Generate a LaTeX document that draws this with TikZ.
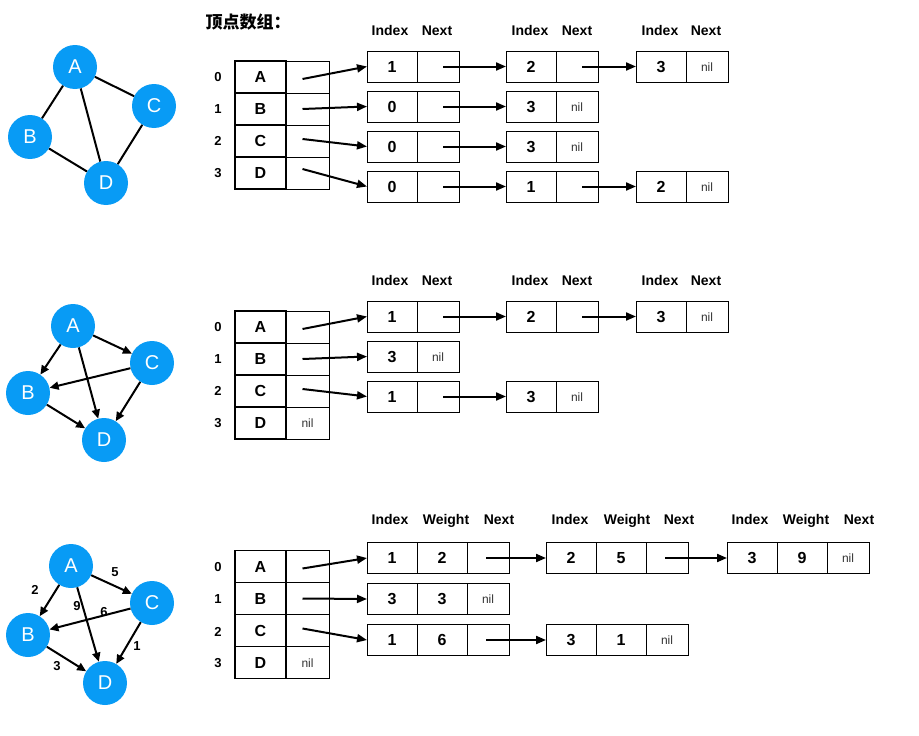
\documentclass[tikz,border=0pt]{standalone}
\usepackage{fontspec}
\setmainfont{Liberation Sans}
\newfontfamily\cjk{Noto Sans CJK SC}
\usetikzlibrary{arrows.meta}
\definecolor{vblue}{RGB}{8,155,245}

\begin{document}
\begin{tikzpicture}[x=1pt, y=-1pt,
    vtx/.style={circle, fill=vblue, text=white, minimum size=44pt, inner sep=0pt, font=\fontsize{20}{20}\selectfont},
    edge/.style={line width=2pt},
    darr/.style={line width=2pt, -{Triangle[length=9pt,width=8pt]}},
    ptr/.style={line width=2pt, -{Triangle[length=10pt,width=8pt]}},
    hdr/.style={text height=10pt, text depth=0pt, inner sep=0pt, font=\bfseries\fontsize{14}{14}\selectfont},
    rowno/.style={font=\bfseries\fontsize{13}{13}\selectfont},
    wlab/.style={font=\bfseries\fontsize{13}{13}\selectfont},
    vcell/.style={draw, line width=1.4pt, minimum width=51pt, minimum height=32pt, inner sep=0pt, outer sep=0pt, text height=11.5pt, text depth=0pt, font=\bfseries\fontsize{16}{16}\selectfont},
    pcell/.style={draw, line width=0.8pt, minimum width=43pt, minimum height=32pt, inner sep=0pt, outer sep=0pt, text height=9pt, text depth=0pt, text=black!80, font=\fontsize{12}{12}\selectfont},
    icell/.style={draw, line width=0.8pt, minimum width=50pt, minimum height=31pt, inner sep=0pt, outer sep=0pt, text height=11.5pt, text depth=0pt, font=\bfseries\fontsize{16}{16}\selectfont},
    ncell/.style={draw, line width=0.8pt, minimum width=42pt, minimum height=31pt, inner sep=0pt, outer sep=0pt, text height=9pt, text depth=0pt, text=black!80, font=\fontsize{12}{12}\selectfont}]
    \useasboundingbox (0,0) rectangle (919,736);

    % undirected graph
    \node[vtx] (uA) at (75,67) {A};
    \node[vtx] (uB) at (30,137) {B};
    \node[vtx] (uC) at (154,106) {C};
    \node[vtx] (uD) at (106,183) {D};
    \draw[edge] (uA) -- (uB);
    \draw[edge] (uA) -- (uC);
    \draw[edge] (uA) -- (uD);
    \draw[edge] (uB) -- (uD);
    \draw[edge] (uC) -- (uD);

    \node[anchor=west, font=\cjk\bfseries\fontsize{17}{17}\selectfont] (title) at (202,22) {顶点数组：};

    \node[hdr] (uh1i) at (390,30) {Index};
    \node[hdr] (uh1n) at (437,30) {Next};
    \node[hdr] (uh2i) at (530,30) {Index};
    \node[hdr] (uh2n) at (577,30) {Next};
    \node[hdr] (uh3i) at (660,30) {Index};
    \node[hdr] (uh3n) at (706,30) {Next};

    \node[rowno] (u0) at (218,77) {0};
    \node[rowno] (u1) at (218,109) {1};
    \node[rowno] (u2) at (218,141) {2};
    \node[rowno] (u3) at (218,173) {3};

    \node[pcell] (upA) at (307.5,77) {};
    \node[pcell] (upB) at (307.5,109) {};
    \node[pcell] (upC) at (307.5,141) {};
    \node[pcell] (upD) at (307.5,173) {};
    \node[vcell] (uvA) at (260.5,77) {A};
    \node[vcell] (uvB) at (260.5,109) {B};
    \node[vcell] (uvC) at (260.5,141) {C};
    \node[vcell] (uvD) at (260.5,173) {D};

    \node[icell] (uA1i) at (392,66.5) {1};
    \node[ncell] (uA1n) at (438,66.5) {};
    \node[icell] (uA2i) at (531,66.5) {2};
    \node[ncell] (uA2n) at (577,66.5) {};
    \node[icell] (uA3i) at (661,66.5) {3};
    \node[ncell] (uA3n) at (707,66.5) {nil};
    \node[icell] (uB1i) at (392,106.5) {0};
    \node[ncell] (uB1n) at (438,106.5) {};
    \node[icell] (uB2i) at (531,106.5) {3};
    \node[ncell] (uB2n) at (577,106.5) {nil};
    \node[icell] (uC1i) at (392,146.5) {0};
    \node[ncell] (uC1n) at (438,146.5) {};
    \node[icell] (uC2i) at (531,146.5) {3};
    \node[ncell] (uC2n) at (577,146.5) {nil};
    \node[icell] (uD1i) at (392,186.5) {0};
    \node[ncell] (uD1n) at (438,186.5) {};
    \node[icell] (uD2i) at (531,186.5) {1};
    \node[ncell] (uD2n) at (577,186.5) {};
    \node[icell] (uD3i) at (661,186.5) {2};
    \node[ncell] (uD3n) at (707,186.5) {nil};

    \draw[ptr] ([xshift=-5pt,yshift=-2pt]upA.center) -- (uA1i.west);
    \draw[ptr] ([xshift=-5pt]upB.center) -- (uB1i.west);
    \draw[ptr] ([xshift=-5pt,yshift=2pt]upC.center) -- (uC1i.west);
    \draw[ptr] ([xshift=-5pt,yshift=4pt]upD.center) -- (uD1i.west);
    \draw[ptr] ([xshift=5pt]uA1n.center) -- (uA2i.west);
    \draw[ptr] ([xshift=5pt]uA2n.center) -- (uA3i.west);
    \draw[ptr] ([xshift=5pt]uB1n.center) -- (uB2i.west);
    \draw[ptr] ([xshift=5pt]uC1n.center) -- (uC2i.west);
    \draw[ptr] ([xshift=5pt]uD1n.center) -- (uD2i.west);
    \draw[ptr] ([xshift=5pt]uD2n.center) -- (uD3i.west);

    % directed graph
    \node[vtx] (dA) at (73,326) {A};
    \node[vtx] (dB) at (28,393) {B};
    \node[vtx] (dC) at (152,363) {C};
    \node[vtx] (dD) at (104,440) {D};
    \draw[darr] (dA) -- (dB);
    \draw[darr] (dA) -- (dC);
    \draw[darr] (dA) -- (dD);
    \draw[darr] (dC) -- (dB);
    \draw[darr] (dC) -- (dD);
    \draw[darr] (dB) -- (dD);

    \node[hdr] (dh1i) at (390,280) {Index};
    \node[hdr] (dh1n) at (437,280) {Next};
    \node[hdr] (dh2i) at (530,280) {Index};
    \node[hdr] (dh2n) at (577,280) {Next};
    \node[hdr] (dh3i) at (660,280) {Index};
    \node[hdr] (dh3n) at (706,280) {Next};

    \node[rowno] (d0) at (218,327) {0};
    \node[rowno] (d1) at (218,359) {1};
    \node[rowno] (d2) at (218,391) {2};
    \node[rowno] (d3) at (218,423) {3};

    \node[pcell] (dpA) at (307.5,327) {};
    \node[pcell] (dpB) at (307.5,359) {};
    \node[pcell] (dpC) at (307.5,391) {};
    \node[pcell] (dpD) at (307.5,423) {nil};
    \node[vcell] (dvA) at (260.5,327) {A};
    \node[vcell] (dvB) at (260.5,359) {B};
    \node[vcell] (dvC) at (260.5,391) {C};
    \node[vcell] (dvD) at (260.5,423) {D};

    \node[icell] (dA1i) at (392,316.5) {1};
    \node[ncell] (dA1n) at (438,316.5) {};
    \node[icell] (dA2i) at (531,316.5) {2};
    \node[ncell] (dA2n) at (577,316.5) {};
    \node[icell] (dA3i) at (661,316.5) {3};
    \node[ncell] (dA3n) at (707,316.5) {nil};
    \node[icell] (dB1i) at (392,356.5) {3};
    \node[ncell] (dB1n) at (438,356.5) {nil};
    \node[icell] (dC1i) at (392,396.5) {1};
    \node[ncell] (dC1n) at (438,396.5) {};
    \node[icell] (dC2i) at (531,396.5) {3};
    \node[ncell] (dC2n) at (577,396.5) {nil};

    \draw[ptr] ([xshift=-5pt,yshift=-2pt]dpA.center) -- (dA1i.west);
    \draw[ptr] ([xshift=-5pt]dpB.center) -- (dB1i.west);
    \draw[ptr] ([xshift=-5pt,yshift=2pt]dpC.center) -- (dC1i.west);
    \draw[ptr] ([xshift=5pt]dA1n.center) -- (dA2i.west);
    \draw[ptr] ([xshift=5pt]dA2n.center) -- (dA3i.west);
    \draw[ptr] ([xshift=5pt]dC1n.center) -- (dC2i.west);

    % weighted graph
    \node[vtx] (wA) at (71,566) {A};
    \node[vtx] (wB) at (28,635) {B};
    \node[vtx] (wC) at (152,603) {C};
    \node[vtx] (wD) at (105,683) {D};
    \draw[darr] (wA) -- (wB);
    \draw[darr] (wA) -- (wC);
    \draw[darr] (wA) -- (wD);
    \draw[darr] (wC) -- (wB);
    \draw[darr] (wC) -- (wD);
    \draw[darr] (wB) -- (wD);
    \node[wlab] (wAB) at (35,590) {2};
    \node[wlab] (wAC) at (115,572) {5};
    \node[wlab] (wAD) at (77,606) {9};
    \node[wlab] (wCB) at (104,612) {6};
    \node[wlab] (wCD) at (137,646) {1};
    \node[wlab] (wBD) at (57,666) {3};

    \node[hdr] (wh1i) at (390,519) {Index};
    \node[hdr] (wh1w) at (446,519) {Weight};
    \node[hdr] (wh1n) at (499,519) {Next};
    \node[hdr] (wh2i) at (570,519) {Index};
    \node[hdr] (wh2w) at (627,519) {Weight};
    \node[hdr] (wh2n) at (679,519) {Next};
    \node[hdr] (wh3i) at (750,519) {Index};
    \node[hdr] (wh3w) at (806,519) {Weight};
    \node[hdr] (wh3n) at (859,519) {Next};

    \node[rowno] (w0) at (218,567) {0};
    \node[rowno] (w1) at (218,599) {1};
    \node[rowno] (w2) at (218,632) {2};
    \node[rowno] (w3) at (218,663) {3};

    \node[pcell] (wpA) at (307.5,566.5) {};
    \node[pcell] (wpB) at (307.5,598.5) {};
    \node[pcell] (wpC) at (307.5,630.5) {};
    \node[pcell] (wpD) at (307.5,662.5) {nil};
    \node[vcell] (wvA) at (260.5,566.5) {A};
    \node[vcell] (wvB) at (260.5,598.5) {B};
    \node[vcell] (wvC) at (260.5,630.5) {C};
    \node[vcell] (wvD) at (260.5,662.5) {D};

    \node[icell] (wA1i) at (392,558) {1};
    \node[icell] (wA1w) at (442,558) {2};
    \node[ncell] (wA1n) at (488,558) {};
    \node[icell] (wA2i) at (571,558) {2};
    \node[icell] (wA2w) at (621,558) {5};
    \node[ncell] (wA2n) at (667,558) {};
    \node[icell] (wA3i) at (752,558) {3};
    \node[icell] (wA3w) at (802,558) {9};
    \node[ncell] (wA3n) at (848,558) {nil};
    \node[icell] (wB1i) at (392,599) {3};
    \node[icell] (wB1w) at (442,599) {3};
    \node[ncell] (wB1n) at (488,599) {nil};
    \node[icell] (wC1i) at (392,640) {1};
    \node[icell] (wC1w) at (442,640) {6};
    \node[ncell] (wC1n) at (488,640) {};
    \node[icell] (wC2i) at (571,640) {3};
    \node[icell] (wC2w) at (621,640) {1};
    \node[ncell] (wC2n) at (667,640) {nil};

    \draw[ptr] ([xshift=-5pt,yshift=-2pt]wpA.center) -- (wA1i.west);
    \draw[ptr] ([xshift=-5pt]wpB.center) -- (wB1i.west);
    \draw[ptr] ([xshift=-5pt,yshift=2pt]wpC.center) -- (wC1i.west);
    \draw[ptr] ([xshift=-2pt]wA1n.center) -- (wA2i.west);
    \draw[ptr] ([xshift=-2pt]wA2n.center) -- (wA3i.west);
    \draw[ptr] ([xshift=-2pt]wC1n.center) -- (wC2i.west);
\end{tikzpicture}
\end{document}
